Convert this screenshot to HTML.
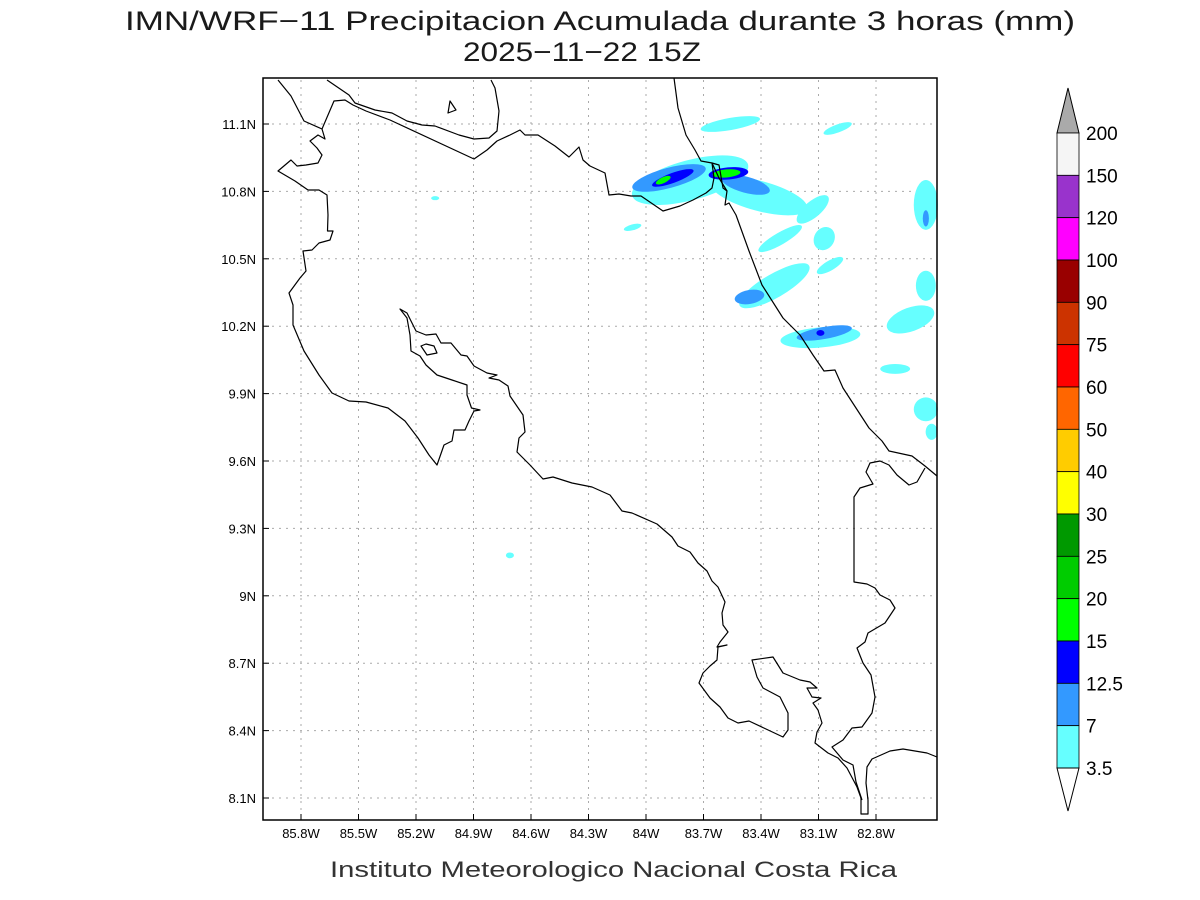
<!DOCTYPE html>
<html><head><meta charset="utf-8"><title>IMN/WRF-11 Precipitacion</title>
<style>html,body{margin:0;padding:0;background:#fff;}svg{display:block;font-family:"Liberation Sans",sans-serif;}</style>
</head><body>
<svg id="chart" width="1200" height="900" viewBox="0 0 1200 900" xmlns="http://www.w3.org/2000/svg">
<rect width="1200" height="900" fill="#fff"/>
<text x="600" y="30" text-anchor="middle" font-size="27" fill="#1a1a1a" textLength="950" lengthAdjust="spacingAndGlyphs">IMN/WRF−11 Precipitacion Acumulada durante 3 horas (mm)</text>
<text x="463" y="61" font-size="27" fill="#1a1a1a" textLength="238" lengthAdjust="spacingAndGlyphs">2025−11−22 15Z</text>
<g id="grid"></g>
<g id="blobs"></g>
<g fill="none" stroke="#000" stroke-width="1.2" stroke-linejoin="round">
<path d="M278,80 L291,96 304,121 322,129 325,139 318,135 310,141 317,148 322,155 318,163 306,165 297,166 291,160 278,171 295,181 308,190 319,190 327,195 328,215 327.5,231 333,231 330,240 319,243 312,250 303,251 306,271 300,278 289,293 293,305 293,325 304,351 319,375 332,393 349,401 366,402 388,408 405,421 418,438 429,455 437,465 444,445 452,441 454,430 465,430 469,421 474,411 480,410 471.5,408 467,395 467,385 452,380 437,375 426,365 420,356 411,351 410,335 407,318 400,309 407,313 416,331 426,335 436,334 441,343 451,343 461,355 467,356 474,366 487,373 497,375 489,378 499,380 508,386 510,396 523,415 525,432 519,438 517,452 530,465 543,479 553,477 572,483 592,487 610,495 622,511 632,513 657,524 672,537 678,546 690,552 698,563 707,571 712,581 718,587 725,602 722,613 723,625 728,632 720,642 717,647 727,645 718,647 717,660 710,666 703,673 699,683 710,698 720,707 728,718 738,723 749,721 783,737 788,730 788,713 780,697 763,688 757,677 752,660 773,657 783,673 800,680 810,682 817,688 807,688 812,697 821,698 813,703 818,710 822,723 817,732 815,743 828,753 838,758 847,768 857,787 861,798 861,814 868,814 868,800 866,783 867,767 872,759 890,751 903,749 927,753 937,757"/>
<path d="M862,800 L856,782 853,765 843,760 832,747 843,740 852,728 862,727 872,713 875,697 871,675 863,663 857,648 865,642 868,633 885,623 895,608 890,600 880,595 875,588 867,584 854,582 854,497 860,488 873,484 866,472 870,463 880,461 889,465 897,475 909,485 917,482 925,468"/>
<path d="M674,78 L678,108 686,135 695,150 701,161 712,163 719,178 727,191 725,205 729,203 736,215 749,251 762,285 783,318 800,335 813,355 824,371 835,370 843,388 856,408 869,428 882,441 889,451 912,456 925,466 937,476"/>
<path d="M327,80 L349,95 355,103 375,110 392,113 407,121 422,125 435,126 459,135 474,139 489,138 497,131 499,111 495,88 491,80"/>
<path d="M322,129 L334,101 345,100 353,105 366,111 390,120 474,159 487,150 497,141 510,135 520,130 525,135 538,135 555,146 569,157 579,147 583,160 590,166 605,173 609,195 619,194 631,196 641,196 663,211 680,206 693,200 706,193 712,188 714,178 712,163 719,165 723,188 727,191"/>
<path d="M448,113 L450,101 456,110 Z"/>
<path d="M421,346 L426,344 434,346 437,353 427,355 Z"/>
</g>
<rect x="263" y="78" width="674" height="742" fill="none" stroke="#000" stroke-width="1.5"/>
<g id="axes"></g>
<g id="colorbar"></g>
<text x="330" y="877" font-size="22" textLength="567" lengthAdjust="spacingAndGlyphs" fill="#333">Instituto Meteorologico Nacional Costa Rica</text>
</svg>
<script>
// Axis data
const lonTicks = [-85.8,-85.5,-85.2,-84.9,-84.6,-84.3,-84.0,-83.7,-83.4,-83.1,-82.8];
const lonTickLabels = ["85.8W","85.5W","85.2W","84.9W","84.6W","84.3W","84W","83.7W","83.4W","83.1W","82.8W"];
const latTicks = [11.1,10.8,10.5,10.2,9.9,9.6,9.3,9.0,8.7,8.4,8.1];
const latTickLabels = ["11.1N","10.8N","10.5N","10.2N","9.9N","9.6N","9.3N","9N","8.7N","8.4N","8.1N"];
// Precipitation areas: center lon, lat, half-extent lon/lat (deg), rotation, level index
const blobLon = [-83.56,-83.00,-83.77,-83.41,-83.13,-85.10,-84.07,-83.30,-83.07,-83.33,-83.04,-83.09,-82.70,-82.54,-82.62,-82.54,-82.51,-84.71,-82.54,-83.88,-83.48,-83.46,-83.07,-82.54,-83.86,-83.57,-83.09,-83.91,-83.58];
const blobLat = [11.10,11.08,10.85,10.78,10.72,10.77,10.64,10.59,10.59,10.38,10.47,10.15,10.01,10.74,10.23,9.83,9.73,9.18,10.38,10.86,10.83,10.33,10.17,10.68,10.86,10.88,10.17,10.85,10.88];
const blobRx = [0.157,0.078,0.313,0.26,0.104,0.021,0.047,0.13,0.063,0.209,0.078,0.209,0.078,0.063,0.13,0.063,0.031,0.021,0.052,0.198,0.13,0.078,0.146,0.016,0.115,0.104,0.021,0.042,0.073];
const blobRy = [0.027,0.018,0.089,0.067,0.036,0.009,0.013,0.027,0.045,0.053,0.022,0.045,0.022,0.111,0.053,0.053,0.036,0.013,0.067,0.045,0.036,0.031,0.027,0.036,0.022,0.027,0.013,0.013,0.018];
const blobRot = [-10,-20,-15,15,-40,0,-15,-30,-60,-30,-30,-5,0,0,-20,0,0,0,0,-15,15,-10,-10,0,-20,-5,0,-25,-5];
const blobLevel = [0,0,0,0,0,0,0,0,0,0,0,0,0,0,0,0,0,0,0,1,1,1,1,1,2,2,2,3,3];
// Colorbar
const cbLabels = ["200","150","120","100","90","75","60","50","40","30","25","20","15","12.5","7","3.5"];
const cbColors = ["#f5f5f5","#9933cc","#ff00ff","#990000","#cc3300","#ff0000","#ff6600","#ffcc00","#ffff00","#009900","#00cc00","#00ff00","#0000ff","#3399ff","#66ffff"];
const levelColors = ["#66ffff","#3399ff","#0000ff","#00ff00"];

const NS="http://www.w3.org/2000/svg";
function xOf(lon){return 301+(lon+85.8)*191.67;}
function yOf(lat){return 124+(11.1-lat)*224.67;}
function mk(tag,parent){const e=document.createElementNS(NS,tag);parent.appendChild(e);return e;}

const grid=document.getElementById('grid');
lonTicks.forEach(function(l){
  const ln=mk('line',grid);
  
  
  ln.setAttribute('x1',xOf(l));ln.setAttribute('x2',xOf(l));ln.setAttribute('y1',80);ln.setAttribute('y2',818);
  ln.setAttribute('stroke','#aaa');ln.setAttribute('stroke-dasharray','2,5');
});
latTicks.forEach(function(l){
  const ln=mk('line',grid);
  
  
  ln.setAttribute('x1',265);ln.setAttribute('x2',935);ln.setAttribute('y1',yOf(l));ln.setAttribute('y2',yOf(l));
  ln.setAttribute('stroke','#aaa');ln.setAttribute('stroke-dasharray','2,5');
});

const blobs=document.getElementById('blobs');
blobLon.forEach(function(lon,i){
  const e=mk('ellipse',blobs);
  
  
  const cx=xOf(lon), cy=yOf(blobLat[i]);
  e.setAttribute('cx',cx);e.setAttribute('cy',cy);
  e.setAttribute('rx',blobRx[i]*191.67);e.setAttribute('ry',blobRy[i]*224.67);
  e.setAttribute('transform','rotate('+blobRot[i]+' '+cx+' '+cy+')');
  e.setAttribute('fill',levelColors[blobLevel[i]]);
});

const axes=document.getElementById('axes');
lonTicks.forEach(function(l,i){
  const t=mk('text',axes);
  
  
  t.setAttribute('x',xOf(l));t.setAttribute('y',838);t.setAttribute('text-anchor','middle');t.setAttribute('font-size','13');
  t.textContent=lonTickLabels[i];
  const k=mk('line',axes);
  
  
  k.setAttribute('x1',xOf(l));k.setAttribute('x2',xOf(l));k.setAttribute('y1',814);k.setAttribute('y2',820);k.setAttribute('stroke','#000');
});
latTicks.forEach(function(l,i){
  const t=mk('text',axes);
  
  
  t.setAttribute('x',256);t.setAttribute('y',yOf(l)+5);t.setAttribute('text-anchor','end');t.setAttribute('font-size','13');
  t.textContent=latTickLabels[i];
  const k=mk('line',axes);
  
  
  k.setAttribute('x1',263);k.setAttribute('x2',269);k.setAttribute('y1',yOf(l));k.setAttribute('y2',yOf(l));k.setAttribute('stroke','#000');
});

const cb=document.getElementById('colorbar');
const cbTop=133, cbBot=768, cbX=1057, cbW=22;
const step=(cbBot-cbTop)/cbColors.length;
const tri=mk('polygon',cb);


tri.setAttribute('points',cbX+','+cbTop+' '+(cbX+cbW)+','+cbTop+' '+(cbX+cbW/2)+','+(cbTop-45));
tri.setAttribute('fill','#aaaaaa');tri.setAttribute('stroke','#000');
cbColors.forEach(function(c,i){
  const r=mk('rect',cb);
  
  
  r.setAttribute('x',cbX);r.setAttribute('y',cbTop+i*step);r.setAttribute('width',cbW);r.setAttribute('height',step);
  r.setAttribute('fill',c);r.setAttribute('stroke','#000');r.setAttribute('stroke-width','0.8');
});
const tri2=mk('polygon',cb);


tri2.setAttribute('points',cbX+','+cbBot+' '+(cbX+cbW)+','+cbBot+' '+(cbX+cbW/2)+','+(cbBot+43));
tri2.setAttribute('fill','#fff');tri2.setAttribute('stroke','#000');
cbLabels.forEach(function(s,i){
  const t=mk('text',cb);
  
  
  t.setAttribute('x',1086);t.setAttribute('y',cbTop+i*step+7);t.setAttribute('font-size','19');
  t.textContent=s;
});
</script>
</body></html>
